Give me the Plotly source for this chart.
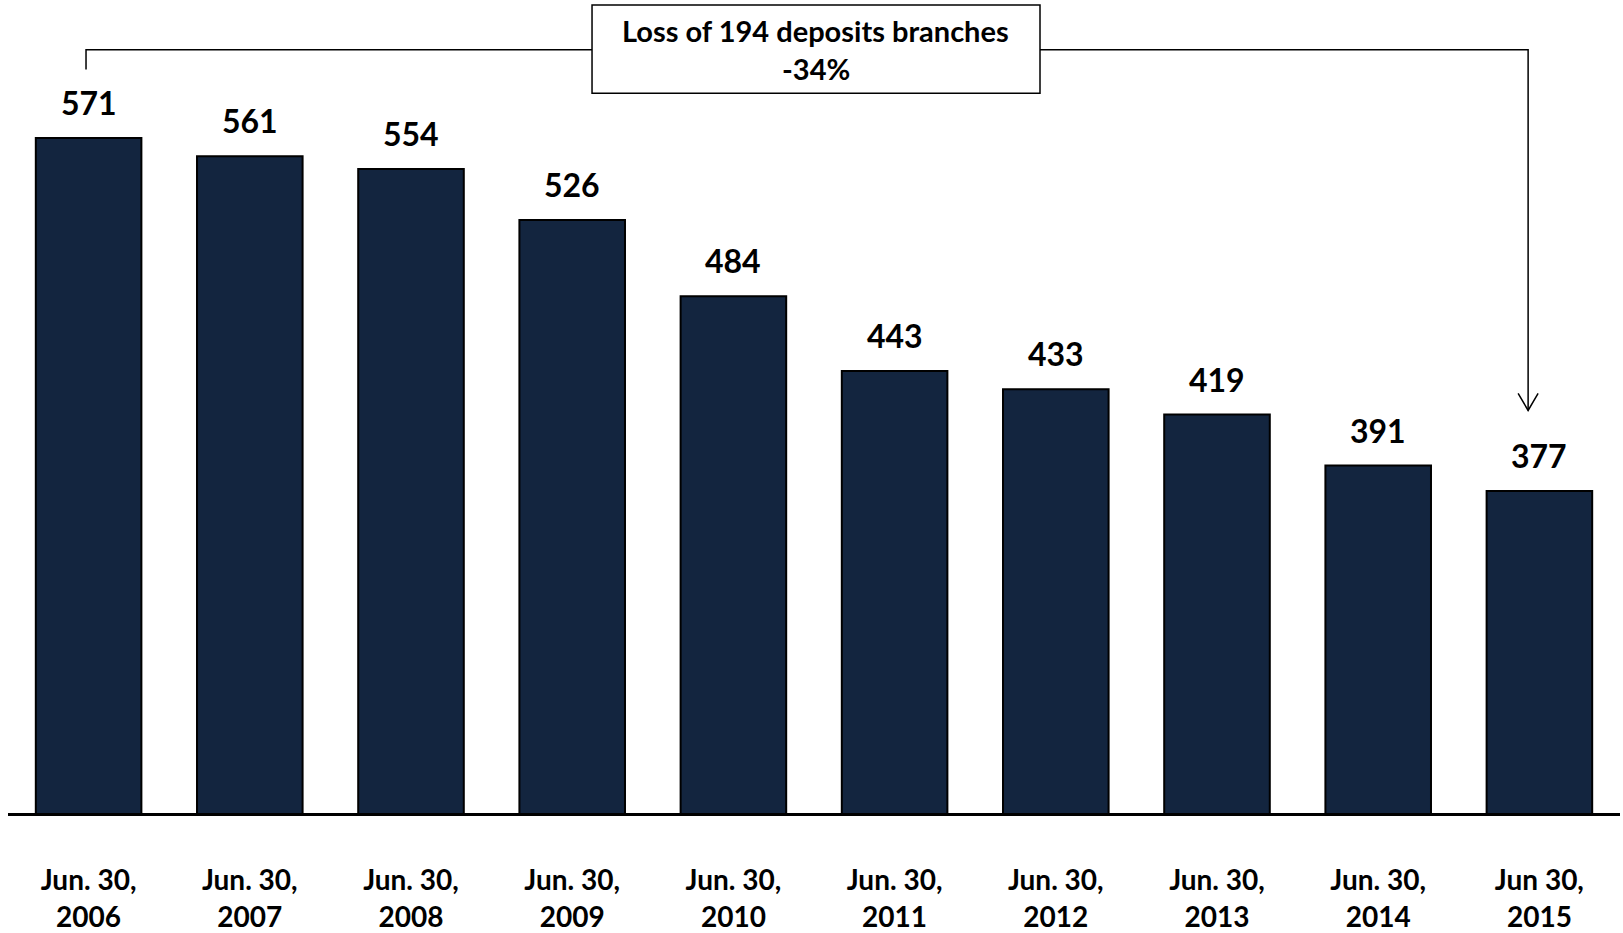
import plotly.graph_objects as go

# Deposit branch counts, June 30 of each year
categories = ["Jun. 30,<br>2006", "Jun. 30,<br>2007", "Jun. 30,<br>2008", "Jun. 30,<br>2009",
              "Jun. 30,<br>2010", "Jun. 30,<br>2011", "Jun. 30,<br>2012", "Jun. 30,<br>2013",
              "Jun. 30,<br>2014", "Jun 30,<br>2015"]
branches = [571, 561, 554, 526, 484, 443, 433, 419, 391, 377]
callout_title = "Loss of 194 deposits branches"
callout_pct = "-34%"

positions = list(range(len(categories)))
navy = "#13253F"
font_family = "Lato, 'Open Sans', Arial, sans-serif"

fig = go.Figure()
fig.add_trace(go.Bar(
    x=positions, y=branches, width=0.655, base=0,
    marker=dict(color=navy, line=dict(color="black", width=2)),
    hoverinfo="skip",
))

# value labels above each bar
for xp, v in zip(positions, branches):
    fig.add_annotation(x=xp, y=v, text=f"<b>{v}</b>", showarrow=False,
                       yanchor="bottom", yshift=14,
                       font=dict(family=font_family, size=32, color="black"))

# bracket from first bar to last bar
y_bar = 619.6
x_left = positions[0] - 0.016
x_right = positions[-1] - 0.07
tip = 421.3
fig.add_trace(go.Scatter(
    x=[x_left, x_left, x_right, x_right],
    y=[608.7, y_bar, y_bar, tip],
    mode="lines", line=dict(color="black", width=1.5), hoverinfo="skip",
))
# open arrow head
fig.add_trace(go.Scatter(
    x=[x_right - 0.062, x_right, x_right + 0.062],
    y=[tip + 9.3, tip, tip + 9.3],
    mode="lines", line=dict(color="black", width=1.5), hoverinfo="skip",
))

# callout box
fig.add_shape(type="rect", x0=3.123, x1=5.902, y0=595.6, y1=644.2,
              xref="x", yref="y", fillcolor="white",
              line=dict(color="black", width=1.5), layer="above")
fig.add_annotation(x=4.512, y=630.0, text=f"<b>{callout_title}</b>", showarrow=False,
                   font=dict(family=font_family, size=29, color="black"))
fig.add_annotation(x=4.512, y=609.5, text=f"<b>{callout_pct}</b>", showarrow=False,
                   font=dict(family=font_family, size=29, color="black"))

fig.update_layout(
    width=1623, height=933,
    margin=dict(l=8, r=3, t=0, b=115),
    plot_bgcolor="white", paper_bgcolor="white",
    showlegend=False,
    xaxis=dict(range=[-0.5, 9.5], tickvals=positions,
               ticktext=[f"<b>{c}</b>" for c in categories],
               tickfont=dict(family=font_family, size=28, color="black"),
               showgrid=False, zeroline=False, showline=True,
               linecolor="black", linewidth=2.5, ticks="", ticklabelstandoff=41,
               fixedrange=True),
    yaxis=dict(range=[200, 646.9], visible=False, showgrid=False, fixedrange=True),
)

fig.write_html("out.html", config={"displayModeBar": False})
